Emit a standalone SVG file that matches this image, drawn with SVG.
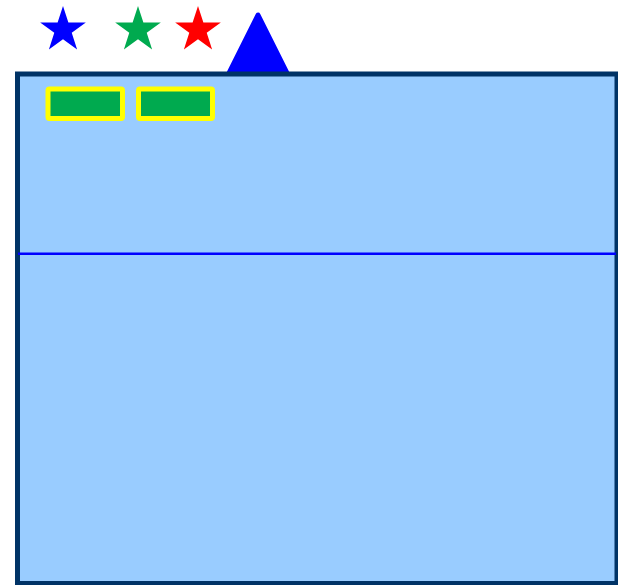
<svg xmlns="http://www.w3.org/2000/svg" width="618" height="585" viewBox="0 0 618 585">
<style>
.box{fill:#99CCFF;stroke:#003366;stroke-width:5}
.btn{fill:#00AA4F;stroke:#FFFF00;stroke-width:5}
</style>
<defs>
<polygon id="star" points="0,-24 5.39,-7.42 22.83,-7.42 8.72,2.83 14.11,19.42 0,9.17 -14.11,19.42 -8.72,2.83 -22.83,-7.42 -5.39,-7.42"/>
</defs>
<g id="stars">
<use href="#star" x="63" y="30" fill="#0000FF"/>
<use href="#star" x="138" y="30" fill="#00AA4F"/>
<use href="#star" x="198" y="30" fill="#FF0000"/>
</g>
<g id="triangle">
<polygon points="258,15 229,73 287,73" fill="#0000FF" stroke="#0000FF" stroke-width="5" stroke-linejoin="round"/>
</g>
<g id="panel">
<rect class="box" x="17.5" y="74" width="599.5" height="509.5"/>
<line x1="18" y1="253.8" x2="616" y2="253.8" stroke="#0000FF" stroke-width="2.5"/>
</g>
<g id="button1"><rect class="btn" x="48" y="89" width="74.5" height="29.5" rx="1.5"/></g>
<g id="button2"><rect class="btn" x="138.5" y="89" width="74" height="29.5" rx="1.5"/></g>
</svg>
